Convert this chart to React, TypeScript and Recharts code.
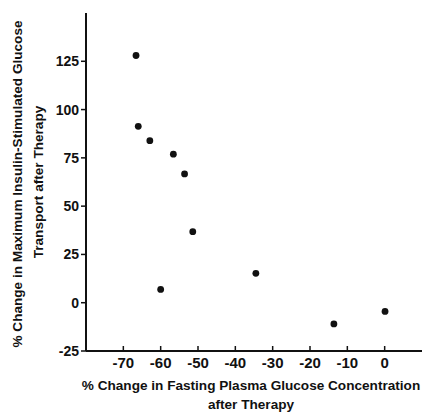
import { ScatterChart, Scatter, XAxis, YAxis } from 'recharts';

// % change in fasting plasma glucose vs % change in max insulin-stimulated glucose transport
const fastingChange = [-66.6, -66, -62.9, -56.6, -53.6, -51.4, -60, -34.5, -13.6, 0.1];
const transportChange = [128, 91.3, 83.9, 76.9, 66.7, 36.8, 6.9, 15.2, -11, -4.5];
const xTicks = [-70, -60, -50, -40, -30, -20, -10, 0];
const yTicks = [-25, 0, 25, 50, 75, 100, 125];

const points = fastingChange.map((x, i) => ({ x, y: transportChange[i] }));

const font = '"Liberation Sans", Arial, sans-serif';
const ink = '#111';

function XTick(props: any) {
  const { x, y, payload } = props;
  return (
    <g>
      <line x1={x} x2={x} y1={y} y2={y - 5} stroke={ink} strokeWidth={1.5} />
      <text x={x} y={y + 17} textAnchor="middle" fill={ink} fontFamily={font} fontSize={15} fontWeight={700}>
        {payload.value}
      </text>
    </g>
  );
}

function YTitle() {
  return (
    <g fontFamily={font} fontSize={13.6} fontWeight={700} fill={ink}>
      <text x={17} y={184} transform="rotate(-90 17 184)" textAnchor="middle" dominantBaseline="central">
        % Change in Maximum Insulin-Stimulated Glucose
      </text>
      <text x={38} y={182} transform="rotate(-90 38 182)" textAnchor="middle" dominantBaseline="central">
        Transport after Therapy
      </text>
    </g>
  );
}

function XTitle() {
  return (
    <g fontFamily={font} fontSize={13.6} fontWeight={700} fill={ink}>
      <text x={251} y={385} textAnchor="middle" dominantBaseline="central">
        % Change in Fasting Plasma Glucose Concentration
      </text>
      <text x={251} y={404} textAnchor="middle" dominantBaseline="central">
        after Therapy
      </text>
    </g>
  );
}

export default function App() {
  return (
    <div style={{ position: 'absolute', left: 0, top: 0, background: '#fff' }}>
      <ScatterChart width={422} height={413} margin={{ top: 13, right: 0, bottom: 0, left: 0 }}>
        <XAxis
          type="number"
          dataKey="x"
          domain={[-80, 10]}
          ticks={xTicks}
          allowDataOverflow
          height={62}
          tickSize={0}
          tickMargin={0}
          tickLine={false}
          tick={<XTick />}
          axisLine={{ stroke: ink, strokeWidth: 2 }}
          label={{ content: () => <XTitle /> }}
        />
        <YAxis
          type="number"
          dataKey="y"
          domain={[-25, 150]}
          ticks={yTicks}
          allowDataOverflow
          width={86}
          tickSize={5}
          tickMargin={2}
          tickLine={{ stroke: ink, strokeWidth: 1.5 }}
          axisLine={{ stroke: ink, strokeWidth: 2 }}
          tick={{ fill: ink, fontFamily: font, fontSize: 14, fontWeight: 700 }}
          label={{ content: () => <YTitle /> }}
        />
        <Scatter
          data={points}
          fill={ink}
          isAnimationActive={false}
          shape={(p: any) => <circle cx={p.cx} cy={p.cy} r={3.4} fill={ink} />}
        />
      </ScatterChart>
    </div>
  );
}
